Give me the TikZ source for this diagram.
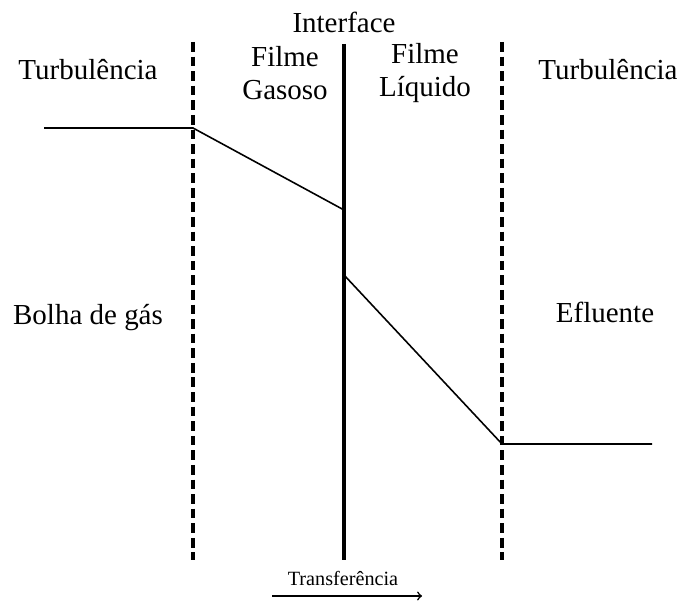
\documentclass[tikz,border=0pt]{standalone}
\usepackage{fontspec}
\setmainfont{Liberation Serif}
\tikzset{
  filmline/.style={line width=2.3pt, dash pattern=on 5.5pt off 2.8pt},
  ifaceline/.style={line width=2.2pt},
  profile/.style={line width=0.9pt},
  lbl/.style={font=\fontsize{16.5}{19}\selectfont, align=center},
}
\begin{document}
\begin{tikzpicture}
\useasboundingbox (0,0) rectangle (13.72,12.02);
% film boundaries and interface
\coordinate (gasTop) at (3.86,11.18);
\coordinate (gasBot) at (3.86,0.82);
\coordinate (ifTop) at (6.88,11.14);
\coordinate (ifBot) at (6.88,0.82);
\coordinate (liqTop) at (10.04,11.18);
\coordinate (liqBot) at (10.04,0.82);
\draw[filmline] (gasTop) -- (gasBot);
\draw[filmline] (liqTop) -- (liqBot);
\draw[ifaceline] (ifTop) -- (ifBot);

% concentration profile
\coordinate (gasBulk) at (0.88,9.46);
\coordinate (gasEdge) at (3.86,9.46);
\coordinate (ifGas) at (6.88,7.82);
\coordinate (ifLiq) at (6.88,6.52);
\coordinate (liqEdge) at (10.04,3.14);
\coordinate (liqBulk) at (13.04,3.14);
\draw[profile] (gasBulk) -- (gasEdge) -- (ifGas);
\draw[profile] (ifLiq) -- (liqEdge) -- (liqBulk);

% labels
\node[lbl] (iface) at (6.88,11.58) {Interface};
\node[lbl] (turbL) at (1.76,10.62) {Turbulência};
\node[lbl] (turbR) at (12.16,10.62) {Turbulência};
\node[lbl] (filmG) at (5.7,10.56) {Filme\\Gasoso};
\node[lbl] (filmL) at (8.5,10.56) {Filme\\Líquido};
\node[lbl] (bolha) at (1.76,5.66) {Bolha de gás};
\node[lbl] (eflu) at (12.1,5.78) {Efluente};

% transfer direction
\node[font=\fontsize{11.5}{13}\selectfont] (transf) at (6.86,0.46) {Transferência};
\coordinate (arrS) at (5.44,0.1);
\coordinate (arrE) at (8.44,0.1);
\draw[-to, line width=0.9pt] (arrS) -- (arrE);
\end{tikzpicture}
\end{document}
